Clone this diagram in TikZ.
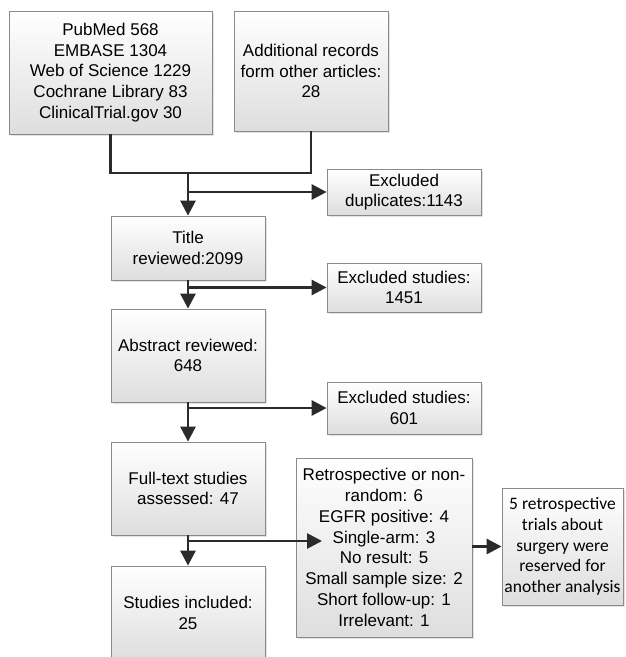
\documentclass[tikz,border=0pt]{standalone}
\usepackage{fontspec}
\setmainfont{Liberation Sans}
\newfontfamily\calibri{Carlito}
\usepackage{xcolor}
\usepackage{tikz}
\usetikzlibrary{arrows.meta,shadows}
\definecolor{edge}{HTML}{8a8a8a}
\definecolor{ink}{HTML}{2b2b2b}

\begin{document}
\begin{tikzpicture}[x=1pt, y=-1pt,
  every node/.style={font=\fontsize{17}{20.8}\selectfont, align=center, inner sep=2pt},
  stagebox/.style={draw=edge, line width=0.8pt, top color=white, bottom color=black!13,
    drop shadow={shadow xshift=2pt, shadow yshift=-2pt, fill=black!22}},
  link/.style={ink, line width=2.8pt},
  flow/.style={link, -{Triangle[length=15pt, width=15pt]}}]
\useasboundingbox (0,0) rectangle (626,657);
% sources
\node[stagebox, minimum width=203pt, minimum height=123pt] (db) at (110.5,72.5)
  {PubMed 568\\EMBASE 1304\\Web of Science 1229\\Cochrane Library 83\\ClinicalTrial.gov 30};
\node[stagebox, minimum width=154pt, minimum height=120pt] (extra) at (311,71)
  {Additional records\\form other articles:\\28};
% main column
\node[stagebox, minimum width=154pt, minimum height=64pt] (title) at (188,248) {Title\\reviewed:2099};
\node[stagebox, minimum width=154pt, minimum height=93pt] (abstract) at (188,355.5) {Abstract reviewed:\\648};
\node[stagebox, minimum width=154pt, minimum height=93pt] (fulltext) at (188,488.5) {Full-text studies\\assessed: 47};
\node[stagebox, minimum width=154pt, minimum height=94pt] (included) at (188,613) {Studies included:\\25};
% exclusions
\node[stagebox, minimum width=154pt, minimum height=46pt] (dup) at (404,192) {Excluded\\duplicates:1143};
\node[stagebox, minimum width=154pt, minimum height=49pt] (excl1) at (404,287.5) {Excluded studies:\\1451};
\node[stagebox, minimum width=154pt, minimum height=52pt] (excl2) at (404,408) {Excluded studies:\\601};
\node[stagebox, minimum width=176pt, minimum height=179pt] (reasons) at (384,547.5)
  {Retrospective or non-\\random: 6\\EGFR positive: 4\\Single-arm: 3\\No result: 5\\Small sample size: 2\\Short follow-up: 1\\Irrelevant: 1};
\node[stagebox, minimum width=121pt, minimum height=117pt,
  font=\calibri\fontsize{17.5}{20.8}\selectfont] (reserved) at (562.5,546.5)
  {5 retrospective\\trials about\\surgery were\\reserved for\\another analysis};
% junctions
\coordinate (merge) at (188,173);
\coordinate (split1) at (188,192);
\coordinate (split2) at (188,287.5);
\coordinate (split3) at (188,408);
\coordinate (split4) at (188,541);
\coordinate (split4end) at (322,541);
\draw[link] (db.south) |- (merge) -| (extra.south);
\draw[flow] (merge) -- (title.north);
\draw[flow] (split1) -- (dup.west);
\draw[flow] (title) -- (abstract);
\draw[flow] (split2) -- (excl1.west);
\draw[flow] (abstract) -- (fulltext);
\draw[flow] (split3) -- (excl2.west);
\draw[flow] (fulltext) -- (included);
\draw[flow] (split4) -- (split4end);
\draw[flow] (reasons.east |- reserved.west) -- (reserved.west);
\end{tikzpicture}
\end{document}
